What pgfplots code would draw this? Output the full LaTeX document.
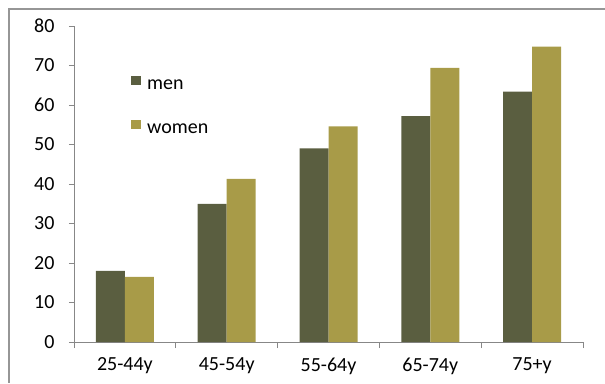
\documentclass[border=0pt]{standalone}
\usepackage{fontspec}
\setmainfont{Carlito}
\usepackage{pgfplots}
\pgfplotsset{compat=1.18}
\definecolor{menc}{RGB}{90,94,64}
\definecolor{womenc}{RGB}{168,155,72}
\definecolor{framec}{RGB}{150,150,150}
\definecolor{axisc}{RGB}{135,135,135}
\begin{document}
\begin{tikzpicture}[x=1pt,y=1pt]
\path[use as bounding box] (0,0) rectangle (605,-383);
% outer frame of the chart area, open towards the right and bottom
\fill[framec] (8.25,-383) rectangle (9.75,-8.25);
\fill[framec] (8.25,-8.25) rectangle (605,-9.75);
\begin{axis}[
  at={(74pt,-342pt)}, anchor=south west,
  scale only axis, width=509pt, height=316pt,
  xmin=-0.5, xmax=4.5, ymin=0, ymax=80,
  axis x line*=bottom, axis y line*=left,
  axis line style={axisc, line width=0.8pt, -},
  xtick pos=left, ytick pos=left,
  ytick={0,10,...,80},
  xtick={0,...,4},
  xticklabels={25-44y,45-54y,55-64y,65-74y,75+y},
  minor xtick={-0.5,0.5,...,4.5},
  major x tick style={draw=none},
  minor tick length=6pt, major tick length=5pt,
  tick style={axisc, line width=0.8pt},
  tick align=outside,
  ticklabel style={font=\fontsize{20}{24}\selectfont},
  xticklabel style={yshift=-7pt},
  yticklabel style={xshift=-11pt},
  /pgf/number format/assume math mode=true,
  ybar=0pt, bar width=29pt,
  legend image code/.code={\draw[#1,/tikz/.cd,draw=none] (0pt,0pt) rectangle (10pt,9.5pt);},
  legend style={draw=none, fill=none, at={(0.112,0.843)}, anchor=north west,
    font=\fontsize{20}{24}\selectfont, row sep=29pt, column sep=3pt, inner sep=0pt,
    nodes={inner xsep=3pt, inner ysep=0pt}},
  legend cell align=left,
]
\addplot[fill=menc, draw=none] coordinates {(0,18) (1,35) (2,49) (3,57.2) (4,63.4)};
\addplot[fill=womenc, draw=none] coordinates {(0,16.5) (1,41.3) (2,54.6) (3,69.4) (4,74.8)};
\legend{men,women}
\end{axis}
\end{tikzpicture}
\end{document}
